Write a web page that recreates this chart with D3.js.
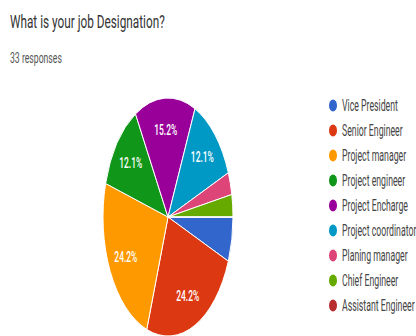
<!DOCTYPE html>
<html>
<head>
<meta charset="utf-8">
<script src="https://cdn.jsdelivr.net/npm/d3@7"></script>
<style>
	body { margin: 0; background: #fff; }
	text { font-family: Roboto, "Liberation Sans", sans-serif; }
</style>
</head>
<body>
<div id="chart"></div>
<script>
// job designation survey, 33 responses
var categories = ["Vice President", "Senior Engineer", "Project manager", "Project engineer",
	"Project Encharge", "Project coordinator", "Planing manager", "Chief Engineer", "Assistant Engineer"];
var counts = [2, 8, 8, 4, 5, 4, 1, 1, 0];
var colors = ["#3366cc", "#dc3912", "#ff9900", "#109618", "#990099", "#0099c6", "#dd4477", "#66aa00", "#b82e2e"];
var title = "What is your job Designation?";
var subtitle = "33 responses";

var W = 416, H = 336;
var total = d3.sum(counts);

var svg = d3.select("#chart").append("svg")
	.attr("width", W)
	.attr("height", H);

// the picture is squeezed horizontally, so texts get a scaleX to fit a width
var squeeze = function (sel, width) {
	sel.each(function () {
		var w = this.getComputedTextLength();
		var k = width / w;
		var x = +d3.select(this).attr("x");
		d3.select(this).attr("transform", "translate(" + (x * (1 - k)) + ",0) scale(" + k + ",1)");
	});
};

svg.append("text")
	.attr("x", 10).attr("y", 28)
	.attr("font-size", 19)
	.attr("fill", "#333")
	.text(title)
	.call(squeeze, 155);

svg.append("text")
	.attr("x", 10).attr("y", 63)
	.attr("font-size", 14)
	.attr("fill", "#555")
	.text(subtitle)
	.call(squeeze, 52);

// pie (elliptical)
var cx = 168, cy = 217, ry = 119, rx = 65;
var sx = rx / ry;

var pie = d3.pie().sort(null).value(function (d) { return d; })
	.startAngle(Math.PI / 2).endAngle(Math.PI / 2 + 2 * Math.PI);
var arcs = pie(counts);

var arc = d3.arc().innerRadius(0).outerRadius(ry);
var labelArc = d3.arc().innerRadius(ry * 0.73).outerRadius(ry * 0.73);

var g = svg.append("g")
	.attr("transform", "translate(" + cx + "," + cy + ") scale(" + sx + ",1)");

g.selectAll("path")
	.data(arcs)
	.enter().append("path")
	.attr("d", arc)
	.attr("fill", function (d, i) { return colors[i]; })
	.attr("stroke", "#fff")
	.attr("stroke-width", 1)
	.attr("vector-effect", "non-scaling-stroke");

var lab = svg.append("g").attr("transform", "translate(" + cx + "," + cy + ")");
lab.selectAll("text")
	.data(arcs.filter(function (d) { return d.value / total > 0.1; }))
	.enter().append("text")
	.attr("x", function (d) { return labelArc.centroid(d)[0] * sx; })
	.attr("y", function (d) { return labelArc.centroid(d)[1]; })
	.attr("dy", "0.35em")
	.attr("text-anchor", "middle")
	.attr("font-size", 14)
	.attr("font-weight", 500)
	.attr("fill", "#fff")
	.text(function (d) { return (d.value / total * 100).toFixed(1) + "%"; })
	.call(squeeze, 23);

// legend
var ly = d3.scaleBand().domain(categories).range([93, 318]);

var leg = svg.append("g").selectAll("g")
	.data(categories)
	.enter().append("g")
	.attr("transform", function (d) { return "translate(0," + (ly(d) + ly.bandwidth() / 2) + ")"; });

leg.append("ellipse")
	.attr("cx", 333).attr("cy", 0)
	.attr("rx", 4).attr("ry", 6)
	.attr("fill", function (d, i) { return colors[i]; });

var lt = leg.append("text")
	.attr("x", 342).attr("y", 0)
	.attr("dy", "0.35em")
	.attr("font-size", 16)
	.attr("fill", "#444")
	.text(function (d) { return d; });

var kLeg = 56 / lt.nodes()[0].getComputedTextLength();
lt.attr("transform", "translate(" + (342 * (1 - kLeg)) + ",0) scale(" + kLeg + ",1)");
</script>
</body>
</html>
